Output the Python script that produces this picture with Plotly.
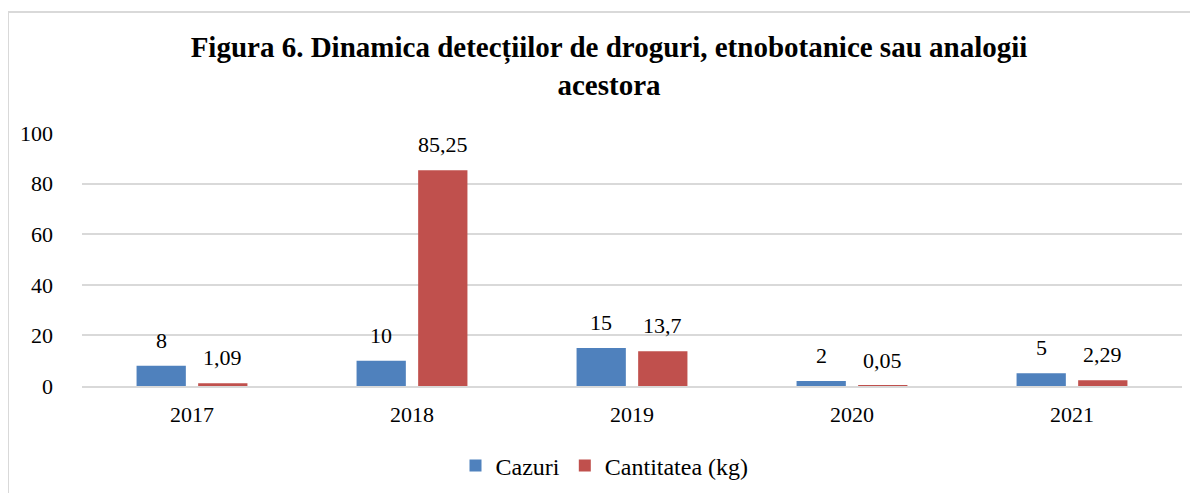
import plotly.graph_objects as go

years = ["2017", "2018", "2019", "2020", "2021"]
cazuri = [8, 10, 15, 2, 5]
cantitatea = [1.09, 85.25, 13.7, 0.05, 2.29]
cazuri_labels = ["8", "10", "15", "2", "5"]
cantitatea_labels = ["1,09", "85,25", "13,7", "0,05", "2,29"]
y_ticks = [0, 20, 40, 60, 80, 100]

BLUE = "#4f81bd"
RED = "#c0504d"
FONT = "Liberation Serif, Times New Roman, serif"

fig = go.Figure()
fig.add_trace(go.Bar(x=years, y=cazuri, name="Cazuri", marker=dict(color=BLUE, line=dict(width=0))))
fig.add_trace(go.Bar(x=years, y=cantitatea, name="Cantitatea (kg)", marker=dict(color=RED, line=dict(width=0))))

# data labels as annotations placed over each bar (x = category index)
off = 30.8
for i, (v, t) in enumerate(zip(cazuri, cazuri_labels)):
    fig.add_annotation(x=i, y=v, text=t, showarrow=False, xshift=-off, yshift=11,
                       yanchor="bottom", font=dict(family=FONT, size=22, color="#000"))
for i, (v, t) in enumerate(zip(cantitatea, cantitatea_labels)):
    fig.add_annotation(x=i, y=v, text=t, showarrow=False, xshift=off, yshift=11,
                       yanchor="bottom", font=dict(family=FONT, size=22, color="#000"))

# outer chart border (paper coords relative to the plot area: 1100 x 253 px)
fig.add_shape(type="rect", xref="paper", yref="paper",
              x0=(8 - 82) / 1100, x1=(1210 - 82) / 1100,
              y0=(386 - 510) / 253, y1=(386 - 12) / 253,
              line=dict(color="#d9d9d9", width=2), fillcolor="rgba(0,0,0,0)", layer="below")

fig.update_layout(
    width=1198, height=493,
    margin=dict(l=74, r=24, t=125, b=115),
    paper_bgcolor="white", plot_bgcolor="white",
    title=dict(text="<b>Figura 6. Dinamica detecțiilor de droguri, etnobotanice sau analogii<br>acestora</b>",
               x=601 / 1198, xanchor="center", y=1 - 49 / 493, yanchor="middle",
               font=dict(family=FONT, size=29, color="#000")),
    barmode="group", bargap=0.44, bargroupgap=0.2,
    showlegend=True,
    legend=dict(orientation="h", x=0.475, xanchor="center", y=(386 - 466) / 253, yanchor="middle",
                font=dict(family=FONT, size=24, color="#000"), bgcolor="rgba(0,0,0,0)"),
    font=dict(family=FONT, color="#000"),
)
fig.update_xaxes(type="category", range=[-0.5, len(years) - 0.5], showgrid=False, showline=True,
                 linecolor="#d9d9d9", linewidth=1.5,
                 ticks="", tickfont=dict(family=FONT, size=22, color="#000"), ticklabelstandoff=8)
fig.update_yaxes(range=[0, 100], tickvals=y_ticks, showgrid=True, gridcolor="#d9d9d9", gridwidth=1.5,
                 zeroline=False, showline=False, ticks="",
                 tickfont=dict(family=FONT, size=22, color="#000"), ticklabelstandoff=28)

fig.write_html("out.html")
